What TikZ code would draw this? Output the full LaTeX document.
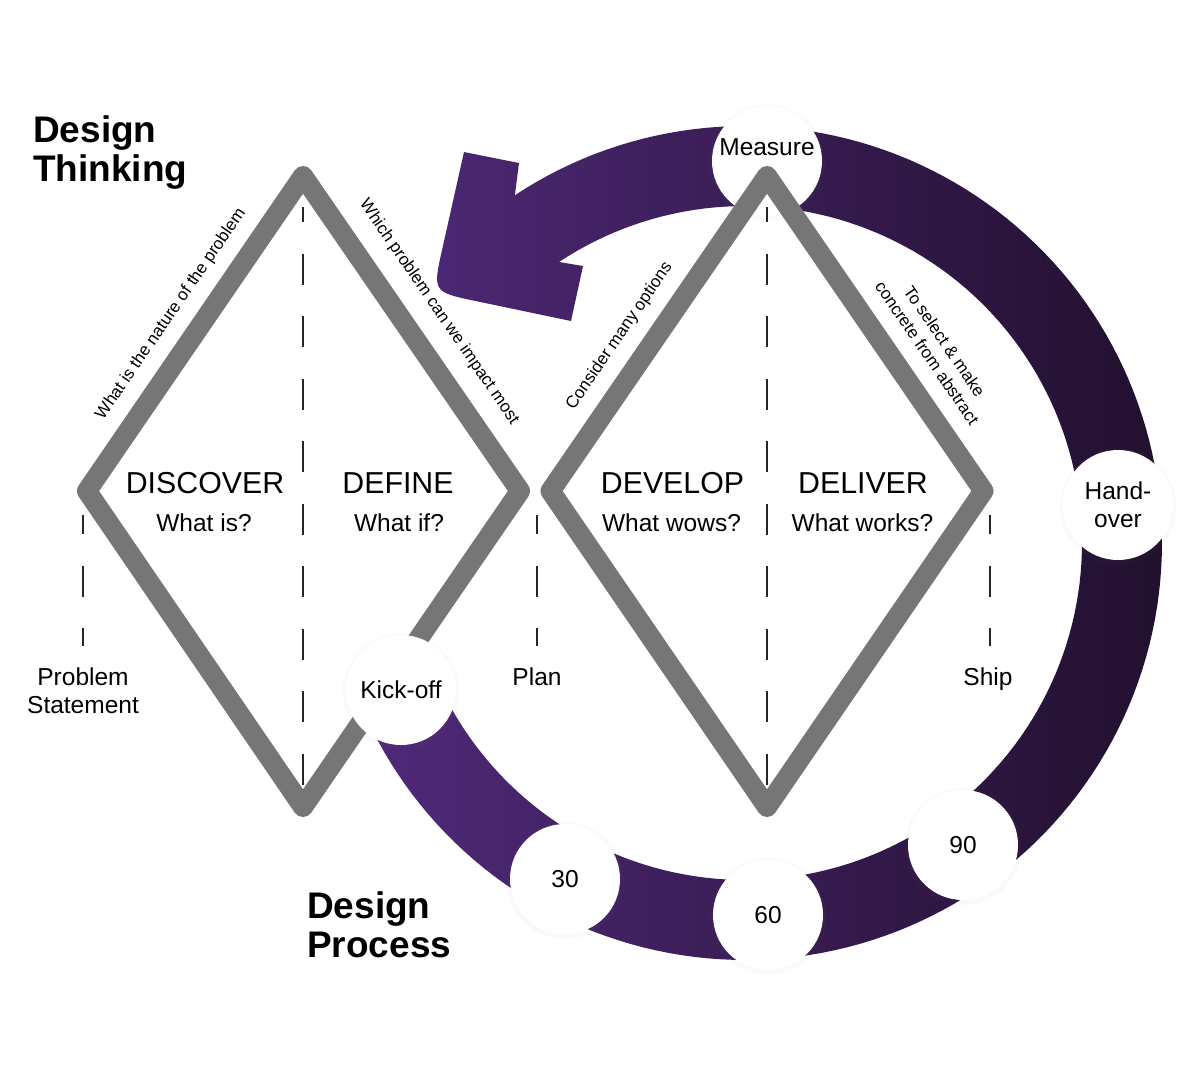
\documentclass[tikz,border=0pt]{standalone}
\usepackage{fontspec}
\setmainfont{Liberation Sans}
\usetikzlibrary{shadows}
\definecolor{bandL}{HTML}{50297A}
\definecolor{bandR}{HTML}{22102E}
\definecolor{dgray}{HTML}{767676}
\begin{document}
\begin{tikzpicture}[x=1pt,y=-1pt,
  diamondline/.style={draw=dgray, line width=20pt, line join=round},
  dashline/.style={draw=black!85, line width=1.8pt, dash pattern=on 31pt off 31.5pt},
  stage/.style={circle, fill=white, minimum size=110pt, inner sep=0pt,
    font=\fontsize{24.5pt}{28pt}\selectfont, align=center,
    drop shadow={shadow xshift=0pt, shadow yshift=-1.5pt, opacity=0.035, shadow scale=1.06}},
  head/.style={font=\fontsize{30.3pt}{36pt}\selectfont, anchor=base, inner sep=0pt},
  sub/.style={font=\fontsize{24.5pt}{28pt}\selectfont, anchor=base, inner sep=0pt},
  lbl/.style={font=\fontsize{24.5pt}{28pt}\selectfont, align=center, inner sep=0pt},
  edgetext/.style={font=\fontsize{17pt}{21pt}\selectfont, align=center, inner sep=0pt},
  title/.style={font=\fontsize{37pt}{39pt}\selectfont\bfseries, align=left, anchor=north west, inner sep=0pt}
]
\useasboundingbox[fill=white] (0,0) rectangle (1192,1082);

% purple process band with arrow head
\shade[left color=bandL, right color=bandR]
  plot[domain=157:-123.5, samples=160] ({745+417*cos(\x)},{543+417*sin(\x)})
  -- (519,163) -- (464,152) -- (442.5,248) .. controls (432.5,292) .. (476.5,301.2)
  -- (571,321) -- (583,266)
  -- plot[domain=-123.5:157, samples=160] ({745+337*cos(\x)},{543+337*sin(\x)})
  -- cycle;

% Measure circle (under the diamond)
\node[stage] (meas) at (767,161) {};
\node[font=\fontsize{24.5pt}{28pt}\selectfont, inner sep=0pt] (meast) at (767,147) {Measure};

% dashed guide lines
\coordinate (da1) at (303,207); \coordinate (db1) at (303,790);
\coordinate (da2) at (767,207); \coordinate (db2) at (767,790);
\coordinate (da3) at (83,515);  \coordinate (db3) at (83,646);
\coordinate (da4) at (537,515); \coordinate (db4) at (537,646);
\coordinate (da5) at (990,515); \coordinate (db5) at (990,646);
\draw[dashline, dash phase=16pt] (da1) -- (db1);
\draw[dashline, dash phase=16pt] (da2) -- (db2);
\draw[dashline, dash phase=12pt] (da3) -- (db3);
\draw[dashline, dash phase=12pt] (da4) -- (db4);
\draw[dashline, dash phase=12pt] (da5) -- (db5);

% diamonds
\coordinate (L1) at (87,491);   \coordinate (T1) at (303,176);
\coordinate (R1) at (520,491);  \coordinate (B1) at (303,807);
\coordinate (L2) at (550.5,491); \coordinate (T2) at (767,176);
\coordinate (R2) at (983.5,491); \coordinate (B2) at (767,807);
\draw[diamondline] (L1) -- (T1) -- (R1) -- (B1) -- cycle;
\draw[diamondline] (L2) -- (T2) -- (R2) -- (B2) -- cycle;

% milestone circles
\node[stage] (kick) at (401,690) {Kick-off};
\node[stage] (c30) at (565,879) {30};
\node[stage] (c60) at (768,915) {60};
\node[stage] (c90) at (963,845) {90};
\node[stage] (hand) at (1118,505) {Hand-\\over};

% phase headings
\node[head] (disc) at (205,493) {DISCOVER};
\node[sub]  (disq) at (204,531) {What is?};
\node[head] (defi) at (398,493) {DEFINE};
\node[sub]  (defq) at (399,531) {What if?};
\node[head] (deve) at (672.5,493) {DEVELOP};
\node[sub]  (devq) at (671.5,531) {What wows?};
\node[head] (deli) at (863,493) {DELIVER};
\node[sub]  (delq) at (862.5,531) {What works?};

% edge texts
\node[edgetext, rotate=55.5]  (e1) at (171,314) {What is the nature of the problem};
\node[edgetext, rotate=-55.5] (e2) at (439,312) {Which problem can we impact most};
\node[edgetext, rotate=55.5]  (e3) at (619.5,336) {Consider many options};
\node[edgetext, rotate=-55.5] (e4) at (936,347) {To select \& make\\concrete from abstract};

% labels
\node[lbl, anchor=north] (ps) at (83,667.5) {Problem\\Statement};
\node[sub] (plan) at (537,685) {Plan};
\node[sub] (ship) at (988,685) {Ship};

% titles
\node[title] (dt) at (33,115) {Design\\Thinking};
\node[title] (dp) at (307,891.5) {Design\\Process};
\end{tikzpicture}
\end{document}
